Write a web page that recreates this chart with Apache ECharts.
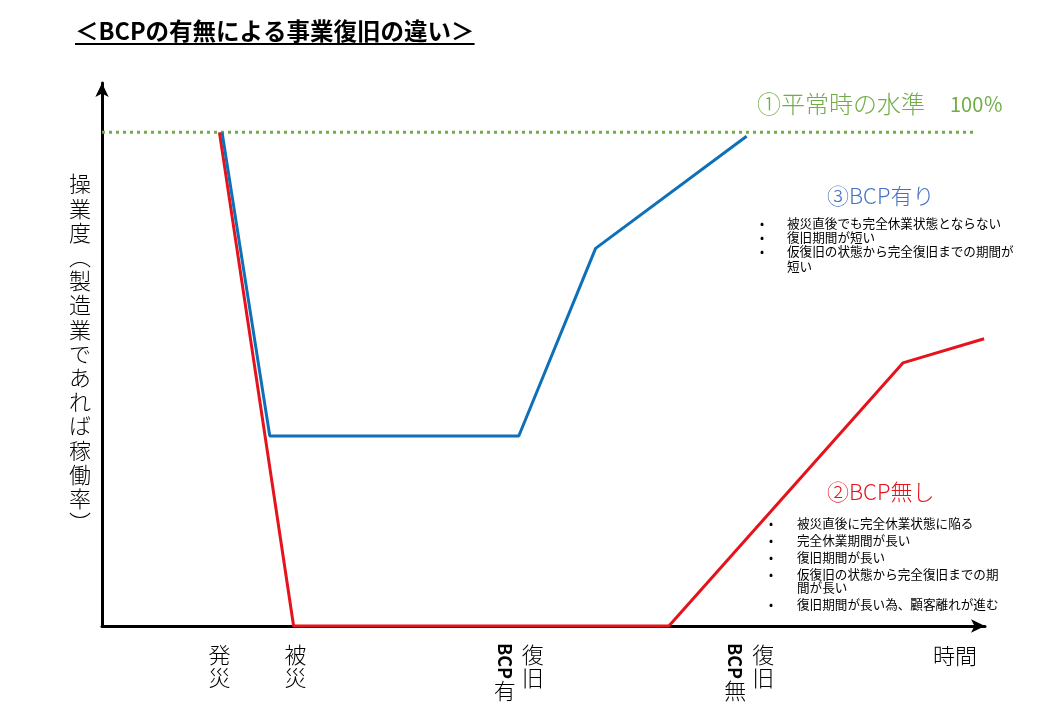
<!DOCTYPE html>
<html><head><meta charset="utf-8">
<script src="https://cdn.jsdelivr.net/npm/echarts@6.0.0/dist/echarts.min.js"></script>
<style>html,body{margin:0;padding:0;background:#fff}#c{width:1040px;height:720px}</style>
</head><body><div id="c"></div>
<script>
const FONT = '"Noto Sans CJK JP", "Noto Sans", sans-serif';

const titleText = '＜BCPの有無による事業復旧の違い＞';
const yAxisTitle = '操業度（製造業であれば稼働率）';
const xAxisTitle = '時間';

const levelLabel = '①平常時の水準';
const levelValueLabel = '100％';
const levelX = [0, 98.9];
const levelY = [100, 100];

const withBcpName = '③BCP有り';
const withBcpX = [13.6, 19.0, 47.2, 55.9, 73.0];
const withBcpY = [100, 38.5, 38.5, 76.5, 99.2];
const withBcpNotes = ['被災直後でも完全休業状態とならない', '復旧期間が短い', '仮復旧の状態から完全復旧までの期間が\n短い'];

const withoutBcpName = '②BCP無し';
const withoutBcpX = [13.3, 21.7, 64.2, 90.7, 99.9];
const withoutBcpY = [100, 0, 0, 53.3, 58.2];
const withoutBcpNotes = ['被災直後に完全休業状態に陥る', '完全休業期間が長い', '復旧期間が長い', '仮復旧の状態から完全復旧までの期\n間が長い', '復旧期間が長い為、顧客離れが進む'];

const eventX = [13.3, 21.9, 47.2, 73.3];
const eventLabels = [['発災'], ['被災'], ['BCP有', '復旧'], ['BCP無', '復旧']];

const GREEN = '#70AD47', BLUE = '#0E70B8', RED = '#E5131B', BLUE_TXT = '#4472C4';

const zip = (xs, ys) => xs.map((x, i) => [x, ys[i]]);

const chart = echarts.init(document.getElementById('c'), null, {renderer: 'canvas'});
chart.setOption({
  backgroundColor: '#fff',
  animation: false,
  grid: {left: 102, right: 55, top: 83, bottom: 94},
  xAxis: {
    type: 'value', min: 0, max: 100,
    axisLine: {show: true, symbol: ['none', 'arrow'], symbolSize: [10, 14], lineStyle: {color: '#000', width: 3}},
    axisTick: {show: false}, axisLabel: {show: false}, splitLine: {show: false}
  },
  yAxis: {
    type: 'value', min: 0, max: 110,
    axisLine: {show: true, symbol: ['none', 'arrow'], symbolSize: [10, 14], lineStyle: {color: '#000', width: 3}},
    axisTick: {show: false}, axisLabel: {show: false}, splitLine: {show: false}
  },
  series: [
    {type: 'line', name: levelLabel, data: zip(levelX, levelY), symbol: 'none', clip: false,
     lineStyle: {color: GREEN, width: 3, type: [3, 4]}},
    {type: 'line', name: withoutBcpName, data: zip(withoutBcpX, withoutBcpY), symbol: 'none', clip: false,
     lineStyle: {color: RED, width: 3}},
    {type: 'line', name: withBcpName, data: zip(withBcpX, withBcpY), symbol: 'none', clip: false,
     lineStyle: {color: BLUE, width: 3}}
  ]
});

const ctx = document.createElement('canvas').getContext('2d');
function measure(t, font) { ctx.font = font; return ctx.measureText(t).width; }

function txt(x, y, text, o) {
  o = o || {};
  const st = {
    text: text, fontSize: o.size || 22, fontFamily: FONT, fontWeight: o.weight || 'normal',
    fill: o.fill || '#000', align: o.align || 'left', verticalAlign: o.va || 'middle',
    textAlign: o.align || 'left', textVerticalAlign: o.va || 'middle'
  };
  if (o.lh) st.lineHeight = o.lh;
  const el = {type: 'text', x: x, y: y, style: st, z: 10};
  if (o.rot) el.rotation = o.rot;
  return el;
}

const g = [];
// title
g.push(txt(75, 31, titleText, {size: 23.5, weight: 'bold'}));
const tw = measure(titleText, 'bold 23.5px ' + FONT);
g.push({type: 'line', shape: {x1: 75, y1: 44, x2: 75 + tw, y2: 44}, style: {stroke: '#000', lineWidth: 2}});

// y-axis title (vertical)
const vert = yAxisTitle.replace('（', '︵').replace('）', '︶').split('').join('\n');
g.push(txt(80, 172, vert, {size: 22, weight: 300, align: 'center', va: 'top', lh: 24.2}));

// x-axis title
g.push(txt(955, 656, xAxisTitle, {size: 22, weight: 300, align: 'center'}));

// level label
g.push(txt(757, 104, levelLabel, {size: 24, weight: 300, fill: GREEN}));
g.push(txt(950, 104, levelValueLabel, {size: 20, fill: GREEN}));

// series labels and notes
g.push(txt(827, 196, withBcpName, {size: 22, weight: 300, fill: BLUE_TXT}));
g.push(txt(827, 492, withoutBcpName, {size: 22, weight: 300, fill: RED}));

function notes(list, bx, tx, y0, itemGap, wrapGap) {
  let y = y0;
  list.forEach(item => {
    const lines = item.split('\n');
    g.push(txt(bx, y, '•', {size: 12}));
    g.push(txt(tx, y - wrapGap / 2, item, {size: 12.6, va: 'top', lh: wrapGap}));
    y += itemGap + (lines.length - 1) * wrapGap;
  });
}
notes(withBcpNotes, 760, 787, 223, 14, 15);
notes(withoutBcpNotes, 769, 797, 523, 17, 13.5);

// event labels (vertical writing)
function column(str, cx, top) {
  let y = top;
  const runs = str.match(/[A-Za-z0-9]+|[^A-Za-z0-9]+/g);
  runs.forEach(run => {
    if (/^[A-Za-z0-9]+$/.test(run)) {
      const w = measure(run, 'bold 18px ' + FONT);
      g.push(txt(cx, y, run, {size: 18, weight: 'bold', rot: -Math.PI / 2}));
      y += w;
    } else {
      const chars = run.split('');
      g.push(txt(cx, y, chars.join('\n'), {size: 22, weight: 300, align: 'center', va: 'top', lh: 23}));
      y += 23 * chars.length;
    }
  });
}
eventLabels.forEach((cols, i) => {
  const cx = chart.convertToPixel({gridIndex: 0}, [eventX[i], 0])[0];
  const pitch = 28;
  cols.forEach((c, j) => {
    column(c, cx + (j - (cols.length - 1) / 2) * pitch, 643);
  });
});

chart.setOption({graphic: {elements: g}});
</script>
</body></html>
